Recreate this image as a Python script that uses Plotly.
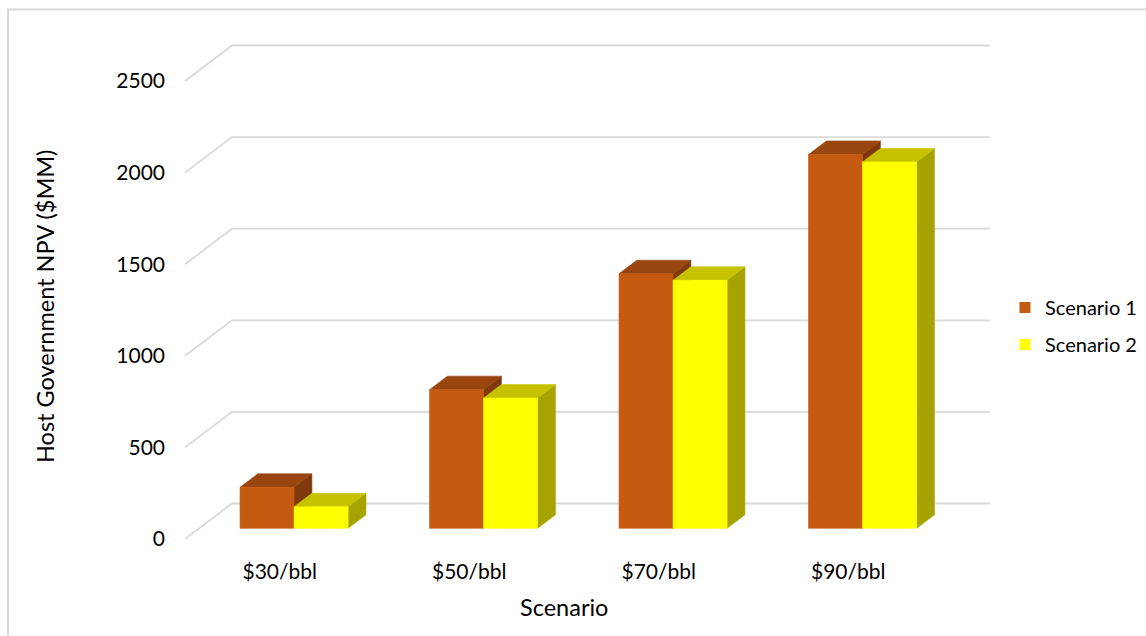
import plotly.graph_objects as go

# ---------------- data ----------------
categories = ["$30/bbl", "$50/bbl", "$70/bbl", "$90/bbl"]
scenario1 = [224, 757, 1390, 2041]
scenario2 = [118, 711, 1354, 2000]
y_ticks = [0, 500, 1000, 1500, 2000, 2500]
series_names = ["Scenario 1", "Scenario 2"]

# ---------------- styling ----------------
face_colors = {
    "Scenario 1": {"front": "#C55A11", "top": "#984510", "side": "#7F390C"},
    "Scenario 2": {"front": "#FFFF00", "top": "#C6C200", "side": "#A6A300"},
}
grid_color = "#D9D9D9"
FONT = "Lato"

W, H = 1146, 636
ML, MR, MT, MB = 166, 127, 26, 79
PW, PH = W - ML - MR, H - MT - MB
PX_PER_CAT = 189.5
PX_PER_UNIT = 0.1832
X0_PX, Y0_PX = 185, 539
xr0 = -(X0_PX - ML) / PX_PER_CAT
xr1 = xr0 + PW / PX_PER_CAT
yr0 = -((H - MB) - Y0_PX) / PX_PER_UNIT
yr1 = yr0 + PH / PX_PER_UNIT

DX = 47 / PX_PER_CAT        # full floor depth, in category units
DY = 35.5 / PX_PER_UNIT     # full floor depth, in value units
F0 = 0.30                   # bar front position within depth
BD = 0.38                   # bar depth fraction
slots = {"Scenario 1": (0.216, 0.501), "Scenario 2": (0.501, 0.786)}

fig = go.Figure()

# walls / gridlines
n = len(categories)
for v in y_ticks:
    fig.add_trace(go.Scatter(
        x=[0, DX, n + DX], y=[v, v + DY, v + DY], mode="lines",
        line=dict(color=grid_color, width=1.8), hoverinfo="skip", showlegend=False))


def poly(xs, ys, color):
    fig.add_trace(go.Scatter(
        x=xs + [xs[0]], y=ys + [ys[0]], mode="lines", fill="toself",
        fillcolor=color, line=dict(color=color, width=0.6),
        hoverinfo="skip", showlegend=False))


series = {"Scenario 1": scenario1, "Scenario 2": scenario2}
for i in range(n):
    for name in series_names:
        v = series[name][i]
        a, b = slots[name]
        ox, oy = F0 * DX, F0 * DY
        x1, x2 = i + a + ox, i + b + ox
        y1, y2 = oy, v + oy
        ddx, ddy = BD * DX, BD * DY
        c = face_colors[name]
        # side
        poly([x2, x2 + ddx, x2 + ddx, x2], [y1, y1 + ddy, y2 + ddy, y2], c["side"])
        # top
        poly([x1, x2, x2 + ddx, x1 + ddx], [y2, y2, y2 + ddy, y2 + ddy], c["top"])
        # front
        poly([x1, x2, x2, x1], [y1, y1, y2, y2], c["front"])

# legend entries
for k, name in enumerate(series_names):
    fig.add_trace(go.Scatter(
        x=[None], y=[None], mode="markers", name=name, legendgroup=name,
        marker=dict(symbol="square", size=11, color=face_colors[name]["front"]),
        showlegend=True))


# pixel -> paper helpers
def px_to_paper_x(px):
    return (px - ML) / PW


def px_to_paper_y(py):
    return ((H - MB) - py) / PH


fig.add_shape(type="rect", xref="paper", yref="paper",
              x0=px_to_paper_x(8), x1=px_to_paper_x(W + 10),
              y0=px_to_paper_y(H + 10), y1=px_to_paper_y(9.5),
              line=dict(color=grid_color, width=2), fillcolor="rgba(0,0,0,0)", layer="below")

fig.add_annotation(text="Host Government NPV ($MM)", textangle=-90,
                   xref="paper", yref="paper", x=px_to_paper_x(45), y=px_to_paper_y(306),
                   xanchor="center", yanchor="middle",
                   showarrow=False, font=dict(family=FONT, size=23.5, color="#000"))
fig.add_annotation(text="Scenario", xref="x", yref="paper", x=n / 2, y=px_to_paper_y(607),
                   xanchor="center", yanchor="middle",
                   showarrow=False, font=dict(family=FONT, size=23.5, color="#000"))

fig.update_layout(
    width=W, height=H,
    margin=dict(l=ML, r=MR, t=MT, b=MB, pad=0, autoexpand=False),
    paper_bgcolor="white", plot_bgcolor="white",
    font=dict(family=FONT, color="#000"),
    xaxis=dict(range=[xr0, xr1], showgrid=False, zeroline=False, showline=False,
               tickmode="array", tickvals=[i + 0.5 for i in range(n)], ticktext=categories,
               ticks="", tickfont=dict(size=21, family=FONT, color="#000"), fixedrange=True,
               automargin=False),
    yaxis=dict(range=[yr0, yr1], showgrid=False, zeroline=False, showline=False,
               tickmode="array", tickvals=y_ticks, ticktext=[str(t) for t in y_ticks],
               ticks="", tickfont=dict(size=21, family=FONT, color="#000"), fixedrange=True,
               automargin=False),
    legend=dict(xref="container", yref="container", x=1005 / W, y=1 - 288 / H,
                xanchor="left", yanchor="top", font=dict(size=20, family=FONT, color="#000"),
                tracegroupgap=8, itemclick=False, bgcolor="rgba(0,0,0,0)"),
    showlegend=True,
)

fig.write_html("out.html")
